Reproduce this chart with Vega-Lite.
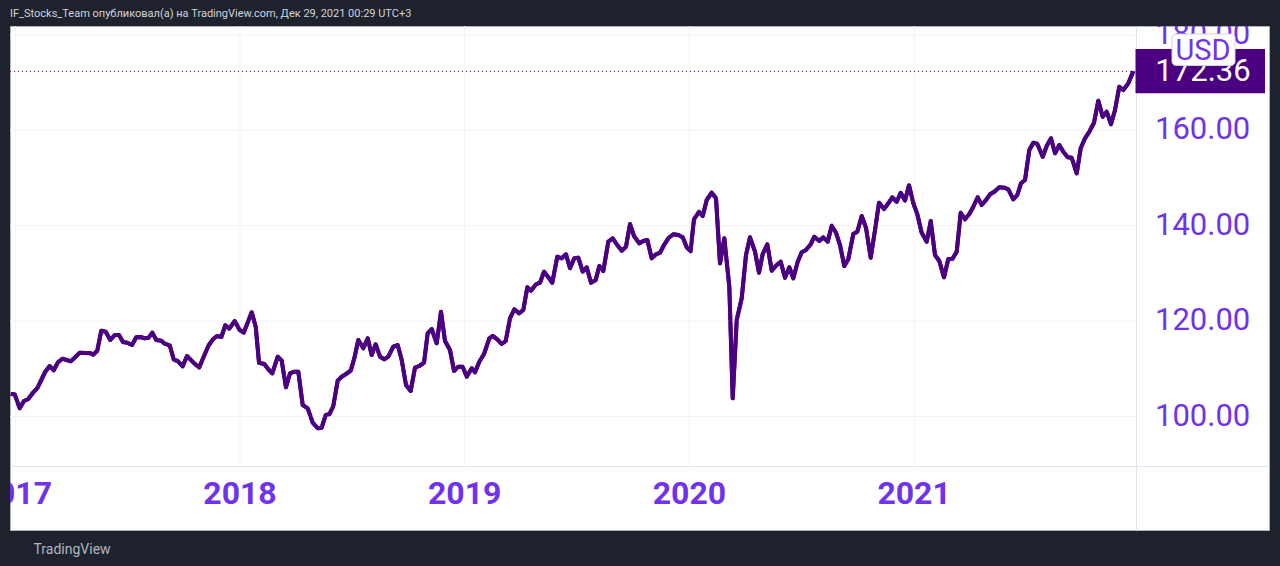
{
  "$schema": "https://vega.github.io/schema/vega-lite/v6.json",
  "autosize": {"type": "none"},
  "width": 1259,
  "height": 504,
  "padding": {"left": 10, "top": 26, "right": 11, "bottom": 36},
  "background": "#1e222d",
  "config": {
    "view": {"fill": "#ffffff", "stroke": "#b2b5be", "strokeWidth": 1},
    "font": "Roboto"
  },
  "title": {
    "text": "IF_Stocks_Team опубликовал(а) на TradingView.com, Дек 29, 2021 00:29 UTC+3",
    "anchor": "start",
    "frame": "group",
    "orient": "top",
    "offset": 7,
    "font": "Roboto",
    "fontSize": 11,
    "fontWeight": "normal",
    "color": "#d1d4dc"
  },
  "datasets": {
    "prices": [
      {"t": 2016.9795, "price": 104.72}, {"t": 2016.9973, "price": 104.65}, {"t": 2017.0196, "price": 101.72},
      {"t": 2017.0387, "price": 103.25}, {"t": 2017.0565, "price": 103.61}, {"t": 2017.0788, "price": 104.99},
      {"t": 2017.0979, "price": 105.97}, {"t": 2017.1157, "price": 107.65}, {"t": 2017.1335, "price": 109.39},
      {"t": 2017.1531, "price": 110.59}, {"t": 2017.1709, "price": 109.69}, {"t": 2017.19, "price": 111.36},
      {"t": 2017.2092, "price": 112.12}, {"t": 2017.2288, "price": 111.84}, {"t": 2017.2466, "price": 111.57},
      {"t": 2017.2644, "price": 112.33}, {"t": 2017.2866, "price": 113.38}, {"t": 2017.3115, "price": 113.31},
      {"t": 2017.3356, "price": 113.25}, {"t": 2017.3471, "price": 112.96}, {"t": 2017.3649, "price": 113.79},
      {"t": 2017.3827, "price": 117.99}, {"t": 2017.4023, "price": 117.78}, {"t": 2017.4228, "price": 116.04},
      {"t": 2017.4424, "price": 117.09}, {"t": 2017.4615, "price": 117.09}, {"t": 2017.4793, "price": 115.62},
      {"t": 2017.4984, "price": 115.47}, {"t": 2017.5194, "price": 114.99}, {"t": 2017.5385, "price": 116.6},
      {"t": 2017.5581, "price": 116.67}, {"t": 2017.5759, "price": 116.39}, {"t": 2017.5937, "price": 116.52},
      {"t": 2017.6097, "price": 117.57}, {"t": 2017.6275, "price": 116.04}, {"t": 2017.6498, "price": 115.89},
      {"t": 2017.6649, "price": 115.26}, {"t": 2017.6871, "price": 114.93}, {"t": 2017.7049, "price": 111.99},
      {"t": 2017.7241, "price": 111.57}, {"t": 2017.745, "price": 110.52}, {"t": 2017.7641, "price": 112.68},
      {"t": 2017.7833, "price": 111.78}, {"t": 2017.8011, "price": 110.94}, {"t": 2017.8189, "price": 110.31},
      {"t": 2017.8398, "price": 112.68}, {"t": 2017.8607, "price": 114.93}, {"t": 2017.8798, "price": 116.18},
      {"t": 2017.8976, "price": 116.88}, {"t": 2017.9168, "price": 116.67}, {"t": 2017.9346, "price": 119.12},
      {"t": 2017.9524, "price": 118.41}, {"t": 2017.9764, "price": 120.02}, {"t": 2017.9987, "price": 118.13},
      {"t": 2018.0165, "price": 117.57}, {"t": 2018.0521, "price": 121.84}, {"t": 2018.0699, "price": 118.83},
      {"t": 2018.0846, "price": 111.28}, {"t": 2018.1081, "price": 111.01}, {"t": 2018.1259, "price": 109.9},
      {"t": 2018.1437, "price": 109.06}, {"t": 2018.1678, "price": 112.54}, {"t": 2018.1856, "price": 111.7},
      {"t": 2018.2047, "price": 106.12}, {"t": 2018.2225, "price": 109.06}, {"t": 2018.2417, "price": 109.39},
      {"t": 2018.2595, "price": 109.39}, {"t": 2018.279, "price": 102.41}, {"t": 2018.3013, "price": 101.72},
      {"t": 2018.3235, "price": 98.7}, {"t": 2018.3458, "price": 97.53}, {"t": 2018.3636, "price": 97.65},
      {"t": 2018.3814, "price": 100.31}, {"t": 2018.3974, "price": 100.46}, {"t": 2018.4152, "price": 102.2},
      {"t": 2018.4348, "price": 107.51}, {"t": 2018.4526, "price": 108.34}, {"t": 2018.4717, "price": 108.91},
      {"t": 2018.4927, "price": 109.6}, {"t": 2018.5087, "price": 112.2}, {"t": 2018.5265, "price": 116.04},
      {"t": 2018.5487, "price": 114.3}, {"t": 2018.5683, "price": 116.39}, {"t": 2018.5861, "price": 112.89},
      {"t": 2018.6039, "price": 115.14}, {"t": 2018.6231, "price": 112.54}, {"t": 2018.6422, "price": 111.99},
      {"t": 2018.66, "price": 112.54}, {"t": 2018.6822, "price": 114.63}, {"t": 2018.7018, "price": 114.99},
      {"t": 2018.7196, "price": 111.84}, {"t": 2018.7388, "price": 106.6}, {"t": 2018.7597, "price": 105.35},
      {"t": 2018.7788, "price": 110.23}, {"t": 2018.798, "price": 110.59}, {"t": 2018.8189, "price": 111.28},
      {"t": 2018.8353, "price": 117.44}, {"t": 2018.8531, "price": 118.34}, {"t": 2018.8754, "price": 115.35},
      {"t": 2018.8945, "price": 121.97}, {"t": 2018.9123, "price": 115.83}, {"t": 2018.9346, "price": 113.94},
      {"t": 2018.9524, "price": 109.54}, {"t": 2018.9715, "price": 110.44}, {"t": 2018.9911, "price": 110.44},
      {"t": 2019.0089, "price": 108.34}, {"t": 2019.0312, "price": 110.1}, {"t": 2019.0458, "price": 109.27},
      {"t": 2019.065, "price": 111.49}, {"t": 2019.0859, "price": 113.1}, {"t": 2019.1095, "price": 116.39},
      {"t": 2019.1246, "price": 116.88}, {"t": 2019.1451, "price": 116.18}, {"t": 2019.1647, "price": 115.2},
      {"t": 2019.1825, "price": 115.83}, {"t": 2019.2016, "price": 120.59}, {"t": 2019.2207, "price": 122.47},
      {"t": 2019.2417, "price": 121.63}, {"t": 2019.2608, "price": 122.33}, {"t": 2019.2786, "price": 127.09},
      {"t": 2019.2951, "price": 126.37}, {"t": 2019.3173, "price": 127.71}, {"t": 2019.3351, "price": 128.05},
      {"t": 2019.3529, "price": 130.36}, {"t": 2019.3721, "price": 129.18}, {"t": 2019.3899, "price": 128.05},
      {"t": 2019.4121, "price": 133.5}, {"t": 2019.4317, "price": 133.17}, {"t": 2019.4508, "price": 134.0},
      {"t": 2019.4686, "price": 131.07}, {"t": 2019.4878, "price": 133.17}, {"t": 2019.5056, "price": 133.29},
      {"t": 2019.5251, "price": 130.36}, {"t": 2019.5429, "price": 131.28}, {"t": 2019.5621, "price": 128.05},
      {"t": 2019.583, "price": 128.62}, {"t": 2019.599, "price": 131.55}, {"t": 2019.6168, "price": 130.5},
      {"t": 2019.6391, "price": 136.65}, {"t": 2019.6587, "price": 137.36}, {"t": 2019.6791, "price": 135.95},
      {"t": 2019.6987, "price": 134.76}, {"t": 2019.7178, "price": 135.6}, {"t": 2019.7356, "price": 140.36},
      {"t": 2019.7534, "price": 137.84}, {"t": 2019.777, "price": 136.31}, {"t": 2019.7948, "price": 136.79},
      {"t": 2019.8126, "price": 137.0}, {"t": 2019.8322, "price": 133.17}, {"t": 2019.8514, "price": 134.0},
      {"t": 2019.8692, "price": 134.34}, {"t": 2019.887, "price": 135.95}, {"t": 2019.9061, "price": 137.36},
      {"t": 2019.9284, "price": 138.2}, {"t": 2019.9506, "price": 138.05}, {"t": 2019.9702, "price": 137.57},
      {"t": 2019.988, "price": 135.47}, {"t": 2020.0049, "price": 134.65}, {"t": 2020.0205, "price": 141.34},
      {"t": 2020.0427, "price": 142.93}, {"t": 2020.0592, "price": 142.03}, {"t": 2020.077, "price": 145.39},
      {"t": 2020.0992, "price": 146.92}, {"t": 2020.1184, "price": 145.74}, {"t": 2020.1362, "price": 132.12},
      {"t": 2020.1553, "price": 137.36}, {"t": 2020.1776, "price": 127.21}, {"t": 2020.1927, "price": 103.82},
      {"t": 2020.2105, "price": 120.23}, {"t": 2020.2328, "price": 124.78}, {"t": 2020.2519, "price": 133.86},
      {"t": 2020.2697, "price": 137.57}, {"t": 2020.2919, "price": 134.55}, {"t": 2020.3097, "price": 130.15},
      {"t": 2020.3262, "price": 134.07}, {"t": 2020.3467, "price": 136.1}, {"t": 2020.3663, "price": 130.57},
      {"t": 2020.3885, "price": 131.76}, {"t": 2020.4063, "price": 132.45}, {"t": 2020.4255, "price": 129.1},
      {"t": 2020.4446, "price": 131.28}, {"t": 2020.4624, "price": 128.97}, {"t": 2020.482, "price": 132.45},
      {"t": 2020.4998, "price": 134.42}, {"t": 2020.5189, "price": 134.91}, {"t": 2020.5398, "price": 136.1},
      {"t": 2020.5559, "price": 137.69}, {"t": 2020.5781, "price": 136.79}, {"t": 2020.5959, "price": 137.57},
      {"t": 2020.6155, "price": 136.65}, {"t": 2020.6333, "price": 140.0}, {"t": 2020.6524, "price": 138.53},
      {"t": 2020.6702, "price": 135.95}, {"t": 2020.6894, "price": 131.55}, {"t": 2020.7072, "price": 133.02},
      {"t": 2020.7294, "price": 138.26}, {"t": 2020.7472, "price": 138.74}, {"t": 2020.7668, "price": 142.03},
      {"t": 2020.7859, "price": 139.58}, {"t": 2020.8069, "price": 133.29}, {"t": 2020.826, "price": 139.1},
      {"t": 2020.8438, "price": 144.82}, {"t": 2020.866, "price": 143.5}, {"t": 2020.8852, "price": 144.7},
      {"t": 2020.903, "price": 145.95}, {"t": 2020.9226, "price": 145.03}, {"t": 2020.9404, "price": 146.92},
      {"t": 2020.9595, "price": 145.28}, {"t": 2020.9773, "price": 148.47}, {"t": 2020.9964, "price": 144.76},
      {"t": 2021.0142, "price": 142.39}, {"t": 2021.0338, "price": 138.53}, {"t": 2021.0561, "price": 136.65},
      {"t": 2021.0739, "price": 140.98}, {"t": 2021.093, "price": 133.86}, {"t": 2021.1121, "price": 132.6},
      {"t": 2021.1331, "price": 129.18}, {"t": 2021.1522, "price": 133.02}, {"t": 2021.17, "price": 133.02},
      {"t": 2021.1896, "price": 134.55}, {"t": 2021.2074, "price": 142.72}, {"t": 2021.2265, "price": 141.34},
      {"t": 2021.2457, "price": 142.45}, {"t": 2021.2635, "price": 143.98}, {"t": 2021.283, "price": 145.95},
      {"t": 2021.3008, "price": 144.34}, {"t": 2021.32, "price": 145.39}, {"t": 2021.3378, "price": 146.58},
      {"t": 2021.3569, "price": 147.13}, {"t": 2021.3792, "price": 148.05}, {"t": 2021.4014, "price": 147.97},
      {"t": 2021.4192, "price": 147.63}, {"t": 2021.4415, "price": 145.53}, {"t": 2021.4593, "price": 146.44},
      {"t": 2021.4757, "price": 148.89}, {"t": 2021.4935, "price": 149.58}, {"t": 2021.5127, "price": 155.87},
      {"t": 2021.5305, "price": 157.4}, {"t": 2021.5483, "price": 157.13}, {"t": 2021.5723, "price": 154.46},
      {"t": 2021.5901, "price": 156.71}, {"t": 2021.6093, "price": 158.32}, {"t": 2021.6271, "price": 155.18},
      {"t": 2021.6462, "price": 156.92}, {"t": 2021.664, "price": 155.51}, {"t": 2021.6836, "price": 154.34},
      {"t": 2021.7014, "price": 154.25}, {"t": 2021.7236, "price": 150.98}, {"t": 2021.7414, "price": 156.23},
      {"t": 2021.7606, "price": 158.32}, {"t": 2021.7797, "price": 159.71}, {"t": 2021.8006, "price": 161.59},
      {"t": 2021.8198, "price": 166.21}, {"t": 2021.8393, "price": 162.85}, {"t": 2021.8571, "price": 163.9},
      {"t": 2021.8763, "price": 161.26}, {"t": 2021.8941, "price": 164.26}, {"t": 2021.9132, "price": 169.14},
      {"t": 2021.931, "price": 168.45}, {"t": 2021.9533, "price": 169.85}, {"t": 2021.9755, "price": 172.36}
    ],
    "hgrid": [{"level": 100}, {"level": 120}, {"level": 140}, {"level": 160}, {"level": 180}],
    "vgrid": [{"year": 2017}, {"year": 2018}, {"year": 2019}, {"year": 2020}, {"year": 2021}],
    "last": [{"label": "172.36", "price": 172.36, "currency": "USD"}]
  },
  "layer": [
    {
      "data": {"name": "prices"},
      "mark": {"type": "line", "color": "#4b0082", "strokeWidth": 4, "strokeJoin": "round", "clip": true},
      "encoding": {
        "x": {
          "field": "t", "type": "quantitative", "title": "TradingView",
          "scale": {"domain": [2016.9764, 2022.5794], "nice": false, "zero": false},
          "axis": {
            "orient": "bottom", "offset": -64, "values": [2017, 2018, 2019, 2020, 2021],
            "grid": false, "ticks": false, "tickSize": 0, "labels": false, "domain": true, "domainColor": "#e0e3eb", "domainWidth": 1,
            "titleFont": "Roboto", "titleFontSize": 14, "titleFontWeight": "normal", "titleColor": "#b2b5be",
            "titleAnchor": "start", "titleAlign": "left", "titlePadding": 76, "titleX": 23
          }
        },
        "y": {
          "field": "price", "type": "quantitative", "title": null,
          "scale": {"domain": [76.205, 181.87], "nice": false, "zero": false},
          "axis": {
            "orient": "right", "offset": -133, "values": [100, 120, 140, 160, 180],
            "grid": false, "ticks": false, "tickSize": 0, "labels": false, "domain": true, "domainColor": "#e0e3eb", "domainWidth": 1
          }
        }
      }
    },
    {
      "data": {"name": "hgrid"},
      "mark": {"type": "rule", "color": "#f0f3fa", "strokeWidth": 1},
      "encoding": {
        "y": {"field": "level", "type": "quantitative"},
        "x": {"datum": 2016.9764, "type": "quantitative"},
        "x2": {"datum": 2021.9853}
      }
    },
    {
      "data": {"name": "vgrid"},
      "mark": {"type": "rule", "color": "#f0f3fa", "strokeWidth": 1},
      "encoding": {
        "x": {"field": "year", "type": "quantitative"},
        "y": {"datum": 89.73, "type": "quantitative"},
        "y2": {"datum": 181.87}
      }
    },
    {
      "data": {"name": "hgrid"},
      "mark": {"type": "text", "color": "#7032ec", "font": "Roboto", "fontSize": 31, "align": "left", "baseline": "middle", "clip": true},
      "encoding": {
        "y": {"field": "level", "type": "quantitative"},
        "x": {"datum": 2022.0721, "type": "quantitative"},
        "text": {"field": "level", "type": "quantitative", "format": ".2f"}
      }
    },
    {
      "data": {"name": "vgrid"},
      "mark": {"type": "text", "color": "#7032ec", "font": "Roboto", "fontSize": 32, "fontWeight": "bold", "align": "center", "baseline": "middle", "dy": 2, "clip": true},
      "encoding": {
        "x": {"field": "year", "type": "quantitative"},
        "y": {"datum": 84.17, "type": "quantitative"},
        "text": {"field": "year", "type": "quantitative", "format": "d"}
      }
    },
    {
      "data": {"name": "last"},
      "mark": {"type": "rule", "color": "#4b0082", "strokeWidth": 1, "strokeDash": [1, 3]},
      "encoding": {
        "y": {"field": "price", "type": "quantitative"},
        "x": {"datum": 2016.9764, "type": "quantitative"},
        "x2": {"datum": 2021.9853}
      }
    },
    {
      "data": {"name": "prices"},
      "mark": {"type": "line", "color": "#4b0082", "strokeWidth": 4, "strokeJoin": "round", "clip": true},
      "encoding": {
        "x": {"field": "t", "type": "quantitative"},
        "y": {"field": "price", "type": "quantitative"}
      }
    },
    {
      "data": {"name": "last"},
      "mark": {"type": "rect", "color": "#4b0082"},
      "encoding": {
        "x": {"datum": 2021.9853, "type": "quantitative"},
        "x2": {"datum": 2022.5616},
        "y": {"datum": 177.04, "type": "quantitative"},
        "y2": {"datum": 167.76}
      }
    },
    {
      "data": {"name": "last"},
      "mark": {"type": "text", "color": "#ffffff", "font": "Roboto", "fontSize": 31, "align": "center", "baseline": "middle", "dy": 1},
      "encoding": {
        "x": {"datum": 2022.2857, "type": "quantitative"},
        "y": {"field": "price", "type": "quantitative"},
        "text": {"field": "label"}
      }
    },
    {
      "data": {"name": "last"},
      "mark": {"type": "rect", "fill": "#ffffff", "stroke": "#d1d4dc", "strokeWidth": 1, "cornerRadius": 4},
      "encoding": {
        "x": {"datum": 2022.1478, "type": "quantitative"},
        "x2": {"datum": 2022.4281},
        "y": {"datum": 180.19, "type": "quantitative"},
        "y2": {"datum": 173.58}
      }
    },
    {
      "data": {"name": "last"},
      "mark": {"type": "text", "color": "#7032ec", "font": "Roboto", "fontSize": 29, "align": "center", "baseline": "middle", "dy": 1},
      "encoding": {
        "x": {"datum": 2022.2857, "type": "quantitative"},
        "y": {"datum": 176.94, "type": "quantitative"},
        "text": {"field": "currency"}
      }
    }
  ]
}
